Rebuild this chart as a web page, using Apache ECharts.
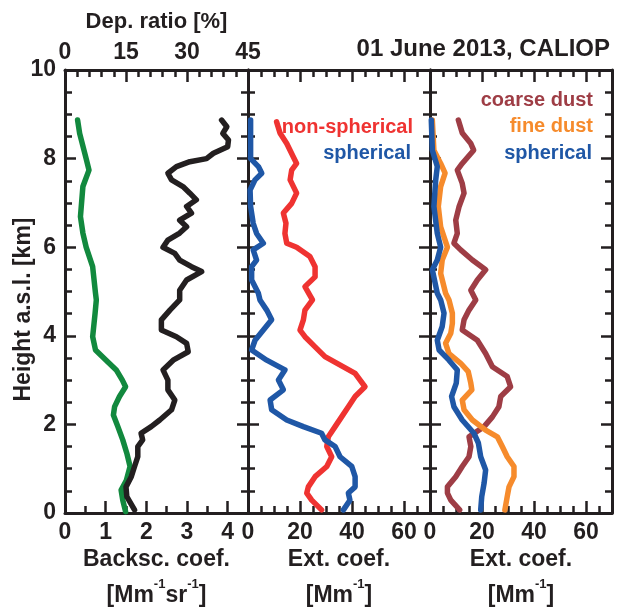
<!DOCTYPE html>
<html>
<head>
<meta charset="utf-8">
<script src="https://cdn.jsdelivr.net/npm/echarts@6/dist/echarts.min.js"></script>
<style>
  html, body { margin: 0; padding: 0; background: #fff; }
  #chart { width: 617px; height: 607px; }
</style>
</head>
<body>
<div id="chart"></div>
<script>
// profiles: heights in km a.s.l.
const bscHeight = [0.03, 0.29, 0.52, 0.74, 1.05, 1.35, 1.65, 1.95, 2.21, 2.40, 2.63, 2.85, 3.00, 3.23, 3.45, 3.68, 3.98, 4.51, 4.81, 4.96, 5.56, 6.00, 6.32, 6.69, 7.37, 7.74, 8.00, 8.57, 8.87]
const bscValue = [1.49, 1.42, 1.38, 1.51, 1.60, 1.52, 1.42, 1.30, 1.19, 1.22, 1.34, 1.49, 1.41, 1.26, 1.01, 0.75, 0.68, 0.74, 0.77, 0.75, 0.68, 0.52, 0.44, 0.38, 0.44, 0.59, 0.52, 0.36, 0.31]

const depHeight = [0.07, 0.37, 0.59, 0.82, 1.05, 1.27, 1.50, 1.65, 1.80, 1.95, 2.10, 2.33, 2.55, 2.78, 3.00, 3.23, 3.45, 3.64, 3.83, 3.98, 4.13, 4.36, 4.58, 4.81, 5.03, 5.26, 5.45, 5.56, 5.71, 5.86, 6.00, 6.16, 6.32, 6.46, 6.61, 6.77, 6.92, 7.07, 7.22, 7.37, 7.52, 7.67, 7.82, 7.93, 8.00, 8.12, 8.27, 8.42, 8.57, 8.72, 8.87]
const depValue = [17.1, 15.2, 15.0, 16.3, 17.1, 17.9, 17.9, 19.1, 18.7, 21.2, 23.3, 26.2, 27.0, 25.3, 25.3, 24.1, 26.6, 30.3, 29.9, 27.4, 23.7, 23.7, 25.8, 28.2, 28.2, 29.9, 33.6, 31.1, 28.2, 27.0, 24.1, 25.3, 28.2, 29.9, 28.2, 31.1, 29.9, 32.3, 30.7, 29.0, 26.2, 25.3, 27.4, 30.7, 34.8, 36.5, 40.0, 40.2, 38.8, 39.8, 38.5]

const nonSphHeight = [0.07, 0.29, 0.45, 0.59, 0.82, 1.05, 1.27, 1.50, 1.72, 1.95, 2.17, 2.40, 2.63, 2.85, 3.15, 3.30, 3.53, 3.75, 3.98, 4.13, 4.36, 4.58, 4.81, 5.11, 5.33, 5.56, 5.79, 6.00, 6.09, 6.31, 6.54, 6.77, 6.99, 7.22, 7.52, 7.74, 7.89, 8.04, 8.34, 8.58, 8.83]
const nonSphValue = [28.3, 24.5, 22.6, 23.2, 25.8, 30.3, 32.2, 30.3, 30.9, 33.5, 36.0, 38.6, 41.2, 45.0, 41.2, 36.7, 29.6, 25.8, 21.9, 20.0, 21.3, 21.9, 24.8, 21.9, 25.8, 25.8, 23.8, 18.7, 14.9, 14.2, 14.6, 13.6, 16.8, 18.7, 16.2, 16.8, 18.7, 17.4, 14.9, 12.3, 11.0]

const sphHeight = [0.07, 0.29, 0.45, 0.59, 0.82, 1.05, 1.27, 1.50, 1.65, 1.80, 1.95, 2.10, 2.33, 2.55, 2.78, 3.00, 3.23, 3.45, 3.68, 3.90, 4.13, 4.36, 4.58, 4.81, 4.96, 5.26, 5.56, 5.71, 5.94, 6.09, 6.31, 6.54, 6.92, 7.29, 7.52, 7.67, 7.82, 8.00, 8.87]
const sphValue = [36.7, 39.2, 38.6, 41.2, 41.2, 39.9, 35.4, 33.5, 29.6, 28.3, 21.3, 14.9, 9.1, 8.5, 13.6, 11.7, 14.2, 7.2, 1.4, 2.7, 5.9, 9.1, 7.2, 4.6, 4.0, 1.4, 1.4, 3.3, 2.0, 5.9, 3.3, 2.0, 1.0, 0.8, 2.7, 5.3, 4.0, 1.0, 1.0]

const coarseHeight = [0.07, 0.29, 0.45, 0.59, 0.82, 1.05, 1.27, 1.50, 1.72, 1.95, 2.17, 2.40, 2.63, 2.85, 3.08, 3.30, 3.60, 3.90, 4.13, 4.36, 4.58, 4.81, 5.03, 5.26, 5.49, 5.71, 5.94, 6.09, 6.31, 6.61, 6.92, 7.22, 7.44, 7.74, 7.89, 8.19, 8.34, 8.58, 8.87]
const coarseValue = [11.4, 8.0, 6.7, 6.7, 9.9, 12.4, 15.0, 15.7, 15.0, 20.8, 24.0, 26.5, 27.2, 31.0, 29.7, 24.0, 21.4, 18.2, 12.4, 13.1, 15.0, 17.6, 15.7, 18.2, 21.4, 16.3, 11.8, 9.2, 10.5, 9.9, 11.2, 13.1, 12.4, 10.5, 12.4, 16.8, 15.7, 12.4, 10.9]

const fineHeight = [0.07, 0.37, 0.59, 0.82, 1.05, 1.27, 1.50, 1.72, 1.87, 2.10, 2.33, 2.55, 2.78, 2.93, 3.19, 3.38, 3.60, 3.83, 4.06, 4.28, 4.51, 4.81, 4.96, 5.41, 5.71, 6.00, 6.46, 6.92, 7.37, 7.67, 7.89, 8.19, 8.87]
const fineValue = [28.8, 29.7, 30.4, 32.3, 32.3, 29.7, 27.8, 25.9, 21.4, 16.3, 13.1, 12.4, 16.1, 15.7, 14.7, 11.8, 7.3, 6.0, 8.0, 8.6, 8.6, 7.3, 6.0, 4.1, 4.7, 6.7, 4.1, 3.2, 4.1, 5.8, 4.1, 1.5, 0.9]

const sph2Height = [0.07, 0.37, 0.67, 0.97, 1.27, 1.58, 1.80, 2.10, 2.40, 2.63, 2.93, 3.23, 3.45, 3.68, 3.90, 4.21, 4.51, 4.81, 4.96, 5.49, 5.71, 6.00, 6.31, 6.92, 7.52, 7.82, 8.19, 8.87]
const sph2Value = [19.5, 19.9, 20.8, 21.4, 19.5, 18.6, 16.9, 12.4, 9.2, 8.3, 10.1, 10.5, 7.3, 3.5, 2.8, 4.7, 5.4, 4.1, 2.8, 0.9, 2.8, 4.1, 2.8, 1.5, 2.2, 2.8, 0.9, 0.5]

const ink = '#231f20'
const font = '"Liberation Sans", Arial, sans-serif'

const pairs = (vals, hs) => vals.map((v, i) => [v, hs[i]])

const labelStyle = { color: ink, fontSize: 23, fontWeight: 'bold', fontFamily: font }
const nameRich = {
  a: { color: ink, fontSize: 23, fontWeight: 'bold', fontFamily: font, lineHeight: 36 },
  s: { color: ink, fontSize: 13, fontWeight: 'bold', fontFamily: font, lineHeight: 20, verticalAlign: 'top' },
}

function xAxis(grid, pos, max, interval, split, showLabel, showMax, name) {
  return {
    type: 'value', gridIndex: grid, position: pos, min: 0, max, interval,
    axisLine: { onZero: false, lineStyle: { color: ink, width: 3 } },
    axisTick: { inside: true, length: 12, lineStyle: { color: ink, width: 2.5 } },
    minorTick: { show: true, splitNumber: split, length: 7, lineStyle: { color: ink, width: 2.5 } },
    splitLine: { show: false },
    axisLabel: Object.assign({ show: showLabel, showMaxLabel: showMax, margin: pos === 'top' ? 6 : 8 }, labelStyle),
    name: name || '',
    nameLocation: 'middle',
    nameGap: pos === 'top' ? 37 : 29,
    nameMoveOverlap: false,
    nameTextStyle: { rich: nameRich, color: ink, fontSize: 22, fontWeight: 'bold', fontFamily: font },
  }
}

function yAxis(grid, pos, showLabel) {
  return {
    type: 'value', gridIndex: grid, position: pos, min: 0, max: 10, interval: 2,
    axisLine: { onZero: false, lineStyle: { color: ink, width: 3 } },
    axisTick: { inside: true, length: 11, lineStyle: { color: ink, width: 2.5 } },
    minorTick: { show: true, splitNumber: 4, length: 7, lineStyle: { color: ink, width: 2.5 } },
    splitLine: { show: false },
    axisLabel: Object.assign({ show: showLabel, margin: 9 }, labelStyle),
    name: showLabel ? 'Height a.s.l. [km]' : '',
    nameLocation: 'middle',
    nameGap: 30,
    nameMoveOverlap: false,
    nameTextStyle: { color: ink, fontSize: 23, fontWeight: 'bold', fontFamily: font, padding: [0, 36, 0, 0] },
  }
}

function profile(name, color, data, xi, yi) {
  return {
    name, type: 'line', data, xAxisIndex: xi, yAxisIndex: yi,
    showSymbol: false, clip: false,
    lineStyle: { color, width: 5.5, cap: 'round', join: 'round' },
  }
}

function legendText(text, color, x, y) {
  return {
    type: 'text', x, y,
    style: { text, fill: color, font: 'bold 20px ' + font, align: 'right', verticalAlign: 'middle', textAlign: 'right', textVerticalAlign: 'middle' },
  }
}

const panel = { top: 70, bottom: 94, outerBoundsMode: 'none', containLabel: false }

const chart = echarts.init(document.getElementById('chart'))
chart.setOption({
  animation: false,
  backgroundColor: '#fff',
  title: {
    text: '01 June 2013, CALIOP', right: 2, top: 32,
    textStyle: { color: ink, fontSize: 24, fontWeight: 'bold', fontFamily: font },
  },
  grid: [
    Object.assign({ left: 65, right: 369 }, panel),
    Object.assign({ left: 248, right: 187 }, panel),
    Object.assign({ left: 430, right: 5 }, panel),
  ],
  xAxis: [
    xAxis(0, 'bottom', 4.5, 1, 2, true, false, '{a|Backsc. coef.}\n{a|[Mm}{s|-1}{a|sr}{s|-1}{a|]}'),
    xAxis(0, 'top', 45, 15, 5, true, true, 'Dep. ratio [%]'),
    xAxis(1, 'bottom', 70, 20, 4, true, false, '{a|Ext. coef.}\n{a|[Mm}{s|-1}{a|]}'),
    xAxis(1, 'top', 70, 20, 4, false, false),
    xAxis(2, 'bottom', 70, 20, 4, true, false, '{a|Ext. coef.}\n{a|[Mm}{s|-1}{a|]}'),
    xAxis(2, 'top', 70, 20, 4, false, false),
  ],
  yAxis: [
    yAxis(0, 'left', true), yAxis(0, 'right', false),
    yAxis(1, 'left', false), yAxis(1, 'right', false),
    yAxis(2, 'left', false), yAxis(2, 'right', false),
  ],
  graphic: [
    legendText('non-spherical', '#ef3331', 413, 127),
    legendText('spherical', '#1f57a6', 411, 153),
    legendText('coarse dust', '#9e3d45', 593, 100),
    legendText('fine dust', '#f68b2c', 593, 126),
    legendText('spherical', '#1f57a6', 592, 153),
  ],
  series: [
    profile('Backsc. coef.', '#12893e', pairs(bscValue, bscHeight), 0, 0),
    profile('Dep. ratio', ink, pairs(depValue, depHeight), 1, 0),
    profile('non-spherical', '#ef3331', pairs(nonSphValue, nonSphHeight), 2, 2),
    profile('spherical', '#1f57a6', pairs(sphValue, sphHeight), 2, 2),
    profile('coarse dust', '#9e3d45', pairs(coarseValue, coarseHeight), 4, 4),
    profile('fine dust', '#f68b2c', pairs(fineValue, fineHeight), 4, 4),
    profile('spherical dust', '#1f57a6', pairs(sph2Value, sph2Height), 4, 4),
  ],
})
</script>
</body>
</html>
